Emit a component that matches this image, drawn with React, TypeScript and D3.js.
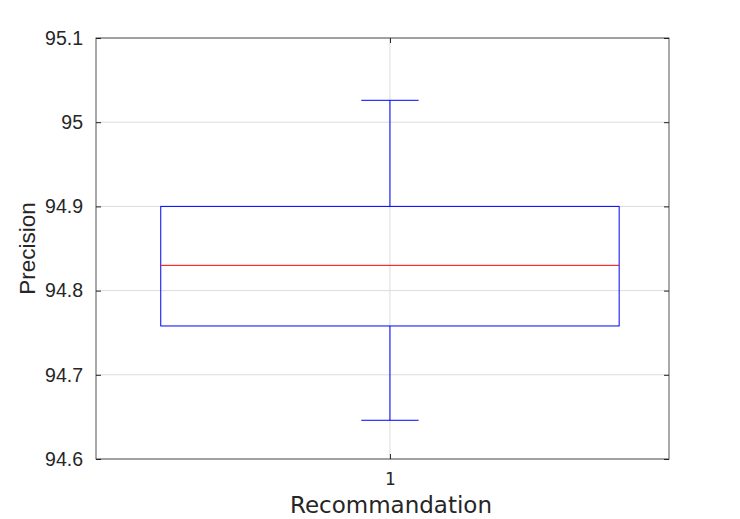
import * as d3 from "d3";
import { useRef, useEffect } from "react";

const categories = [1];
const whiskerLow = [94.646];
const quartile1 = [94.758];
const medians = [94.83];
const quartile3 = [94.9];
const whiskerHigh = [95.026];
const yTicks = [94.6, 94.7, 94.8, 94.9, 95, 95.1];

export default function App() {
  const width = 740;
  const height = 519;
  const marginTop = 38;
  const marginRight = 71;
  const marginBottom = 60;
  const marginLeft = 96;

  const ref = useRef(null);

  useEffect((): void => {
    if (!ref.current) return;
    const svg = d3.select(ref.current);
    svg.selectAll("*").remove();

    const x = d3
      .scaleLinear()
      .domain([0.487, 1.487])
      .range([marginLeft, width - marginRight]);
    const y = d3
      .scaleLinear()
      .domain([94.6, 95.1])
      .range([height - marginBottom, marginTop]);

    const sans = "'Liberation Sans', Arial, sans-serif";
    const dejavu = "'DejaVu Sans', sans-serif";
    const textColor = "#262626";
    const frameColor = "#555";

    // grid
    const grid = svg.append("g");
    grid
      .selectAll("line.hy")
      .data(yTicks)
      .enter()
      .append("line")
      .attr("x1", marginLeft)
      .attr("x2", width - marginRight)
      .attr("y1", (d) => y(d))
      .attr("y2", (d) => y(d))
      .attr("stroke", "#dcdcdc")
      .attr("stroke-width", 1);
    grid
      .selectAll("line.vx")
      .data(categories)
      .enter()
      .append("line")
      .attr("x1", (d) => x(d))
      .attr("x2", (d) => x(d))
      .attr("y1", marginTop)
      .attr("y2", height - marginBottom)
      .attr("stroke", "#dcdcdc")
      .attr("stroke-width", 1);

    // boxes
    const boxHalf = 0.4;
    const capHalf = 0.05;
    const blue = "#0000ff";
    const boxes = svg
      .append("g")
      .selectAll("g")
      .data(categories)
      .enter()
      .append("g");

    boxes
      .append("line")
      .attr("x1", (d) => x(d))
      .attr("x2", (d) => x(d))
      .attr("y1", (_, i) => y(quartile3[i]))
      .attr("y2", (_, i) => y(whiskerHigh[i]))
      .attr("stroke", blue);
    boxes
      .append("line")
      .attr("x1", (d) => x(d))
      .attr("x2", (d) => x(d))
      .attr("y1", (_, i) => y(quartile1[i]))
      .attr("y2", (_, i) => y(whiskerLow[i]))
      .attr("stroke", blue);
    boxes
      .append("line")
      .attr("x1", (d) => x(d - capHalf))
      .attr("x2", (d) => x(d + capHalf))
      .attr("y1", (_, i) => y(whiskerHigh[i]))
      .attr("y2", (_, i) => y(whiskerHigh[i]))
      .attr("stroke", blue);
    boxes
      .append("line")
      .attr("x1", (d) => x(d - capHalf))
      .attr("x2", (d) => x(d + capHalf))
      .attr("y1", (_, i) => y(whiskerLow[i]))
      .attr("y2", (_, i) => y(whiskerLow[i]))
      .attr("stroke", blue);
    boxes
      .append("rect")
      .attr("x", (d) => x(d - boxHalf))
      .attr("width", (d) => x(d + boxHalf) - x(d - boxHalf))
      .attr("y", (_, i) => y(quartile3[i]))
      .attr("height", (_, i) => y(quartile1[i]) - y(quartile3[i]))
      .attr("fill", "none")
      .attr("stroke", blue);
    boxes
      .append("line")
      .attr("x1", (d) => x(d - boxHalf))
      .attr("x2", (d) => x(d + boxHalf))
      .attr("y1", (_, i) => y(medians[i]))
      .attr("y2", (_, i) => y(medians[i]))
      .attr("stroke", "#ff0000");

    // frame
    svg
      .append("rect")
      .attr("x", marginLeft)
      .attr("y", marginTop)
      .attr("width", width - marginLeft - marginRight)
      .attr("height", height - marginTop - marginBottom)
      .attr("fill", "none")
      .attr("stroke", frameColor)
      .attr("stroke-width", 1);

    // y axis (ticks inward, both sides)
    const yAxis = d3
      .axisLeft(y)
      .tickValues(yTicks)
      .tickSize(-5)
      .tickPadding(13)
      .tickFormat((d) => d3.format("")(+(+d).toFixed(1)));
    svg
      .append("g")
      .attr("transform", `translate(${marginLeft},0)`)
      .call(yAxis)
      .call((g) => g.select(".domain").remove())
      .call((g) => g.selectAll("line").attr("stroke", "#222"))
      .call((g) =>
        g
          .selectAll("text")
          .attr("fill", textColor)
          .attr("font-size", 19.5)
          .attr("font-family", sans),
      );
    svg
      .append("g")
      .attr("transform", `translate(${width - marginRight},0)`)
      .call(d3.axisRight(y).tickValues(yTicks).tickSize(-5).tickFormat(() => ""))
      .call((g) => g.select(".domain").remove())
      .call((g) => g.selectAll("line").attr("stroke", "#222"));

    // x axis
    svg
      .append("g")
      .attr("transform", `translate(0,${height - marginBottom})`)
      .call(
        d3
          .axisBottom(x)
          .tickValues(categories)
          .tickSize(-5)
          .tickPadding(14)
          .tickFormat(d3.format("d")),
      )
      .call((g) => g.select(".domain").remove())
      .call((g) => g.selectAll("line").attr("stroke", "#222"))
      .call((g) =>
        g
          .selectAll("text")
          .attr("fill", textColor)
          .attr("font-size", 17)
          .attr("font-family", dejavu),
      );
    svg
      .append("g")
      .attr("transform", `translate(0,${marginTop})`)
      .call(d3.axisTop(x).tickValues(categories).tickSize(-5).tickFormat(() => ""))
      .call((g) => g.select(".domain").remove())
      .call((g) => g.selectAll("line").attr("stroke", "#222"));

    // axis labels
    svg
      .append("text")
      .attr("x", 391)
      .attr("y", 513)
      .attr("text-anchor", "middle")
      .attr("fill", textColor)
      .attr("font-size", 23)
      .attr("font-family", dejavu)
      .text("Recommandation");
    svg
      .append("text")
      .attr("transform", `translate(35,${(marginTop + height - marginBottom) / 2}) rotate(-90)`)
      .attr("text-anchor", "middle")
      .attr("fill", textColor)
      .attr("font-size", 22.5)
      .attr("font-family", sans)
      .text("Precision");
  }, []);

  return (
    <svg
      ref={ref}
      width={width}
      height={height}
      style={{ position: "absolute", left: 0, top: 0, background: "#fff" }}
    />
  );
}
